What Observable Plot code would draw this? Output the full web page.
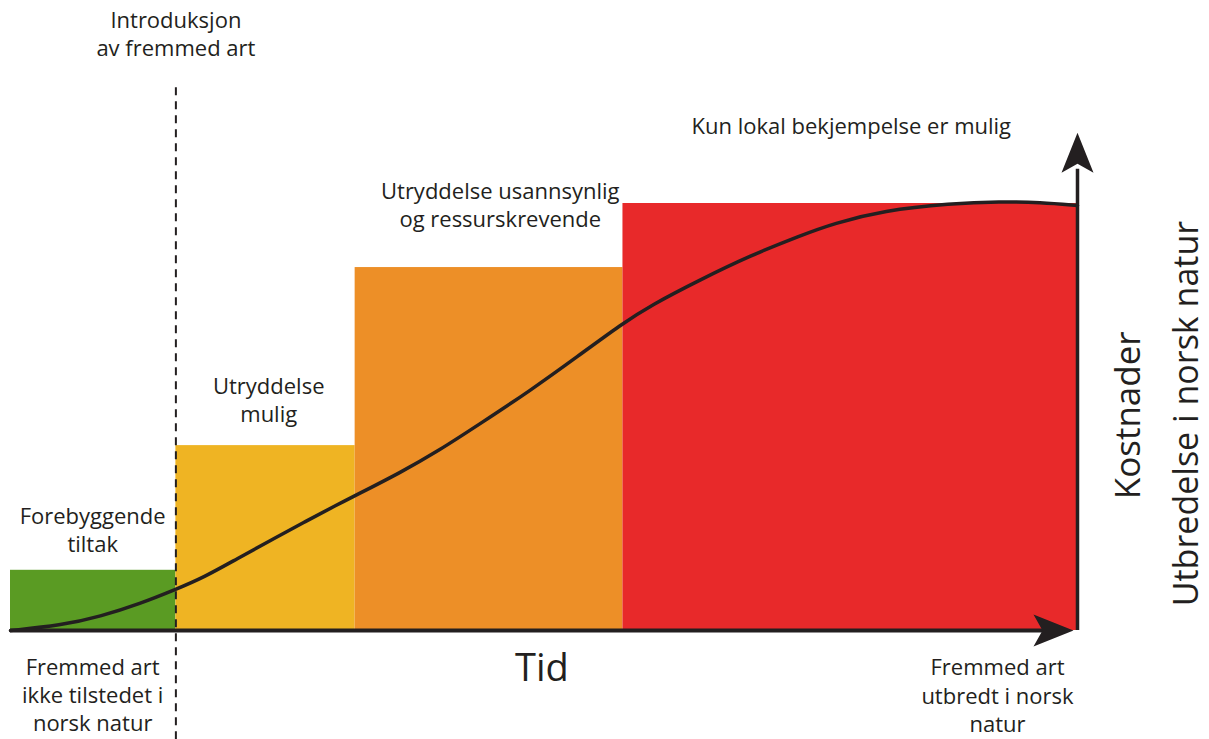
<!DOCTYPE html>
<html>
<head>
<meta charset="utf-8">
<script src="https://cdn.jsdelivr.net/npm/d3@7"></script>
<script src="https://cdn.jsdelivr.net/npm/@observablehq/plot@0.6"></script>
<style>
  body { margin: 0; background: #fff; }
  #chart svg { display: block; }
</style>
</head>
<body>
<div id="chart"></div>
<script>
// Stages (time phases) and their cost level
const stageNames = ["Forebyggende\ntiltak", "Utryddelse\nmulig", "Utryddelse usannsynlig\nog ressurskrevende", "Kun lokal bekjempelse er mulig"];
const stageStart = [0, 15.5, 32.3, 57.4];
const stageEnd = [15.5, 32.3, 57.4, 100];
const stageCost = [14.1, 43.3, 85, 100];
const stageColors = ["#5a9b23", "#efb423", "#ed8f27", "#e8292a"];

// Spread of the species over time (S-curve)
const spreadTime = [0, 4.69, 8.43, 12.18, 15.46, 18.09, 21.27, 24.37, 27.46, 30.65, 32.33, 36.55, 40.02, 44.05, 48.73, 53.14, 57.36, 59.98, 64.67, 69.35, 74.04, 77.13, 81.82, 88.10, 92.78, 96.53, 100];
const spreadValue = [0, 1.17, 3.28, 6.32, 9.60, 12.41, 16.86, 21.08, 25.29, 29.51, 31.62, 37.00, 41.92, 48.48, 56.21, 64.17, 71.90, 76.11, 82.20, 87.82, 92.51, 95.32, 98.36, 100.0, 100.47, 100.23, 99.53];

const introTime = 15.5;

// Annotation labels
const labelText = ["Introduksjon\nav fremmed art", stageNames[0], stageNames[1], stageNames[2], stageNames[3],
  "Fremmed art\nikke tilstedet i\nnorsk natur", "Fremmed art\nutbredt i norsk\nnatur"];
const labelX = [15.5, 7.7, 24.2, 45.9, 78.8, 7.7, 92.5];
const labelY = [140, 23.7, 54.3, 99.8, 118.3, -14.8, -15];

const stages = stageNames.map((name, i) => ({name, x1: stageStart[i], x2: stageEnd[i], y: stageCost[i], color: stageColors[i]}));
const spread = spreadTime.map((t, i) => ({t, v: spreadValue[i]}));
const labels = labelText.map((text, i) => ({text, x: labelX[i], y: labelY[i]}));

const arrowHead = {
  draw(ctx, size) {
    ctx.moveTo(0, -20);
    ctx.lineTo(16, 20);
    ctx.lineTo(0, 11);
    ctx.lineTo(-16, 20);
    ctx.closePath();
  }
};

const ink = "#231f20";
const font = "Open Sans, sans-serif";

const chart = Plot.plot({
  width: 1209,
  height: 739,
  marginLeft: 10,
  marginRight: 132,
  marginTop: 203,
  marginBottom: 109,
  x: {domain: [0, 100], axis: null},
  y: {domain: [0, 100], axis: null},
  style: {fontFamily: font, background: "#fff", color: ink},
  marks: [
    Plot.rectY(stages, {x1: "x1", x2: "x2", y1: 0, y2: "y", fill: "color"}),
    Plot.ruleX([introTime], {y1: -25.6, y2: 127.5, stroke: ink, strokeWidth: 2, strokeDasharray: "8,6"}),
    Plot.line(spread, {x: "t", y: "v", curve: "basis", stroke: ink, strokeWidth: 3.5}),
    Plot.ruleY([0], {x1: 0, x2: 97, stroke: ink, strokeWidth: 4}),
    Plot.ruleX([100], {y1: 0, y2: 108, stroke: ink, strokeWidth: 3.5}),
    Plot.dot([{x: 100, y: 111.9}], {x: "x", y: "y", symbol: arrowHead, fill: ink, stroke: "none", r: 10}),
    Plot.dot([{x: 97.75, y: 0}], {x: "x", y: "y", symbol: arrowHead, fill: ink, stroke: "none", r: 10, rotate: 90}),
    Plot.text(labels, {x: "x", y: "y", text: "text", fontSize: 22, lineHeight: 1.28, fill: ink}),
    Plot.text(["Tid"], {x: 49.8, y: -8.9, fontSize: 38, fill: ink}),
    Plot.text(["Kostnader"], {x: 104.8, y: 50.4, fontSize: 35, rotate: -90, fill: ink}),
    Plot.text(["Utbredelse i norsk natur"], {x: 110.3, y: 50.8, fontSize: 34, rotate: -90, fill: ink})
  ]
});
document.getElementById("chart").append(chart);
</script>
</body>
</html>
